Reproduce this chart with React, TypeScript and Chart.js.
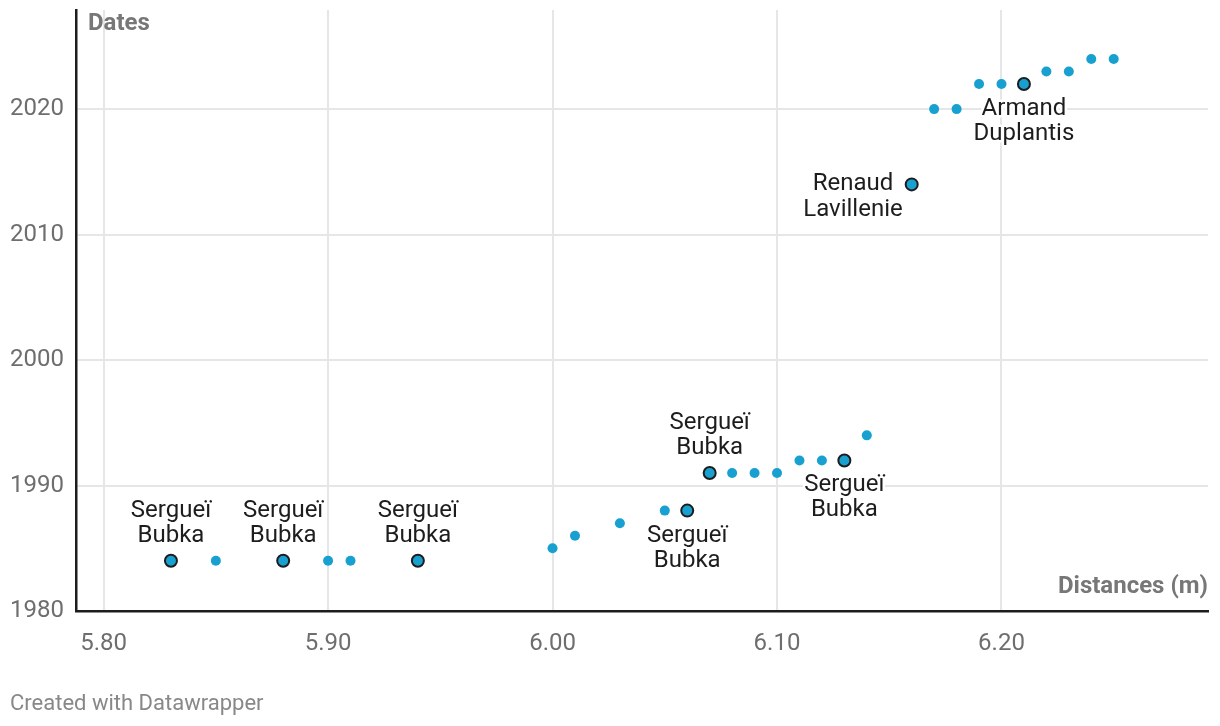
import React, { useEffect, useRef } from "react";
import { Chart, registerables } from "chart.js";

Chart.register(...registerables);

// Regular world-record progression points (distance in m, year)
const recordDistances = [5.85, 5.9, 5.91, 6.0, 6.01, 6.03, 6.05, 6.08, 6.09, 6.1, 6.11, 6.12, 6.14, 6.17, 6.18, 6.19, 6.2, 6.22, 6.23, 6.24, 6.25];
const recordYears = [1984, 1984, 1984, 1985, 1986, 1987, 1988, 1991, 1991, 1991, 1992, 1992, 1994, 2020, 2020, 2022, 2022, 2023, 2023, 2024, 2024];

// Highlighted (labelled) points
const highlightDistances = [5.83, 5.88, 5.94, 6.06, 6.07, 6.13, 6.16, 6.21];
const highlightYears = [1984, 1984, 1984, 1988, 1991, 1992, 2014, 2022];
const highlightNames = [
  ["Sergueï", "Bubka"],
  ["Sergueï", "Bubka"],
  ["Sergueï", "Bubka"],
  ["Sergueï", "Bubka"],
  ["Sergueï", "Bubka"],
  ["Sergueï", "Bubka"],
  ["Renaud", "Lavillenie"],
  ["Armand", "Duplantis"],
];
const labelPlacement = ["above", "above", "above", "below", "above", "below", "left", "below"];

const xTicks = [5.8, 5.9, 6.0, 6.1, 6.2];
const yTicks = [1980, 1990, 2000, 2010, 2020];

const xTitle = "Distances (m)";
const yTitle = "Dates";
const footer = "Created with Datawrapper";

const DOT = "#18a1d0";
const FONT = "Roboto, 'Noto Sans', sans-serif";

const labelPlugin = {
  id: "pointLabels",
  afterDatasetsDraw(chart: any) {
    const ctx = chart.ctx;
    const meta = chart.getDatasetMeta(1);
    ctx.save();
    ctx.font = `24px ${FONT}`;
    ctx.textBaseline = "middle";
    ctx.textAlign = "center";
    ctx.lineJoin = "round";
    meta.data.forEach((el: any, i: number) => {
      const lines = highlightNames[i];
      const place = labelPlacement[i];
      const lh = 25;
      let cx = el.x;
      let ys: number[] = [];
      if (place === "above") ys = [el.y - 2 * lh, el.y - lh];
      else if (place === "below") ys = [el.y + lh, el.y + 2 * lh];
      else {
        const w = Math.max(...lines.map((l) => ctx.measureText(l).width));
        cx = el.x - 9 - w / 2;
        ys = [el.y, el.y + 26];
      }
      lines.forEach((t, j) => {
        ctx.strokeStyle = "#ffffff";
        ctx.lineWidth = 5;
        ctx.strokeText(t, cx, ys[j]);
        ctx.fillStyle = "#1d1d1d";
        ctx.fillText(t, cx, ys[j]);
      });
    });
    ctx.restore();
  },
};

const titlePlugin = {
  id: "axisTitles",
  afterDraw(chart: any) {
    const ctx = chart.ctx;
    const a = chart.chartArea;
    ctx.save();
    ctx.font = `bold 24px ${FONT}`;
    ctx.fillStyle = "#777777";
    ctx.textBaseline = "middle";
    ctx.textAlign = "left";
    ctx.fillText(yTitle, a.left + 12, a.top + 14);
    ctx.textAlign = "right";
    ctx.fillText(xTitle, a.right, a.bottom - 24);
    ctx.restore();
  },
};

export default function App() {
  const ref = useRef<HTMLCanvasElement>(null);
  useEffect(() => {
    if (!ref.current) return;
    const chart = new Chart(ref.current, {
      type: "scatter",
      data: {
        datasets: [
          {
            data: recordDistances.map((x, i) => ({ x, y: recordYears[i] })),
            backgroundColor: DOT,
            borderWidth: 0,
            pointRadius: 5,
          },
          {
            data: highlightDistances.map((x, i) => ({ x, y: highlightYears[i] })),
            backgroundColor: DOT,
            borderColor: "#1d1d1d",
            borderWidth: 2,
            pointRadius: 6,
          },
        ],
      },
      options: {
        responsive: false,
        animation: false,
        events: [],
        layout: { padding: { top: 10, right: 12, left: 0, bottom: 0 } },
        plugins: { legend: { display: false }, tooltip: { enabled: false } },
        scales: {
          x: {
            type: "linear",
            min: 5.7877,
            max: 6.292,
            afterBuildTicks: (s: any) => {
              s.ticks = xTicks.map((v) => ({ value: v }));
            },
            afterFit: (s: any) => {
              s.height = 115;
              s.paddingLeft = 0;
              s.paddingRight = 0;
            },
            grid: { color: "#e6e6e6", lineWidth: 2, drawTicks: false },
            border: { color: "#1d1d1d", width: 2.5 },
            ticks: {
              padding: 19,
              color: "#6e6e6e",
              font: { family: FONT, size: 24 },
              callback: (v: any) => Number(v).toFixed(2),
            },
          },
          y: {
            type: "linear",
            min: 1980,
            max: 2027.9,
            afterBuildTicks: (s: any) => {
              s.ticks = yTicks.map((v) => ({ value: v }));
            },
            afterFit: (s: any) => {
              s.width = 76;
              s.paddingTop = 0;
              s.paddingBottom = 0;
            },
            grid: { color: "#e6e6e6", lineWidth: 2, drawTicks: false },
            border: { color: "#1d1d1d", width: 2.5 },
            ticks: {
              padding: 12,
              color: "#6e6e6e",
              font: { family: FONT, size: 24 },
              callback: (v: any) => String(v),
            },
          },
        },
      },
      plugins: [labelPlugin, titlePlugin],
    });
    return () => chart.destroy();
  }, []);
  return (
    <div style={{ position: "fixed", left: 0, top: 0, width: 1220, height: 726, background: "#fff" }}>
      <canvas ref={ref} width={1220} height={726} style={{ position: "absolute", left: 0, top: 0 }} />
      <div
        style={{
          position: "absolute",
          left: 10,
          top: 689,
          fontFamily: FONT,
          fontSize: 22,
          color: "#888888",
          lineHeight: "28px",
        }}
      >
        {footer}
      </div>
    </div>
  );
}
